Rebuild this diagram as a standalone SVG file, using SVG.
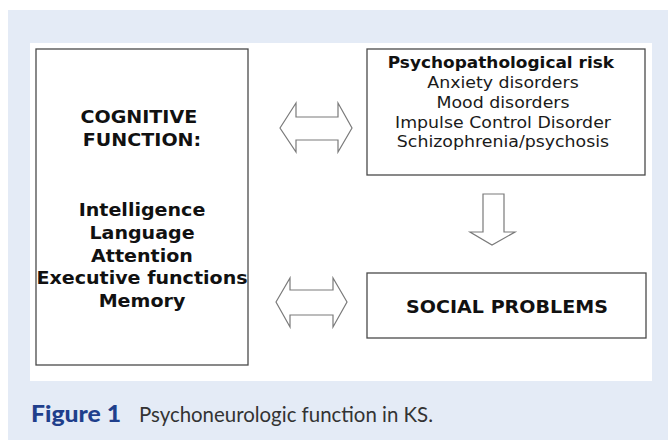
<svg xmlns="http://www.w3.org/2000/svg" width="668" height="440" viewBox="0 0 668 440">
  <defs>
    <style>
      .bg { fill: #e4ebf6; }
      .panel { fill: #ffffff; }
      .box { fill: #ffffff; stroke: #4a4a4a; stroke-width: 1.3; }
      .arrow { fill: #ffffff; stroke: #7a7a7a; stroke-width: 1.2; stroke-linejoin: miter; }
      .bold { font-family: "DejaVu Sans", Verdana, sans-serif; font-weight: bold; fill: #111111; text-anchor: middle; }
      .reg { font-family: "DejaVu Sans", Verdana, sans-serif; fill: #1a1a1a; text-anchor: middle; }
      .capfig { font-family: "Lato", "Open Sans", sans-serif; font-weight: 900; fill: #1f3f8c; font-size: 23px; }
      .captxt { font-family: "Lato", "Open Sans", sans-serif; fill: #333333; font-size: 21px; }
    </style>
  </defs>
  <rect class="bg" x="8" y="10" width="660" height="430"/>
  <rect class="panel" x="30" y="43" width="622" height="338"/>

  <g id="cognitive">
    <rect class="box" x="36" y="49" width="212" height="316"/>
    <g transform="translate(142 0) scale(1.06 1)">
      <text class="bold" font-size="18" x="-3" y="123">COGNITIVE</text>
      <text class="bold" font-size="18" x="0" y="146">FUNCTION:</text>
      <text class="bold" font-size="18" x="0" y="216">Intelligence</text>
      <text class="bold" font-size="18" x="0" y="239">Language</text>
      <text class="bold" font-size="18" x="0" y="262">Attention</text>
      <text class="bold" font-size="18" x="0" y="284">Executive functions</text>
      <text class="bold" font-size="18" x="0" y="307">Memory</text>
    </g>
  </g>

  <g id="psychopathological">
    <rect class="box" x="367" y="49" width="278" height="126"/>
    <g transform="translate(503 0) scale(1.06 1)">
      <text class="bold" font-size="16" x="-2" y="68">Psychopathological risk</text>
      <text class="reg" font-size="16.4" x="0" y="88">Anxiety disorders</text>
      <text class="reg" font-size="16.4" x="0" y="108">Mood disorders</text>
      <text class="reg" font-size="16.4" x="0" y="128">Impulse Control Disorder</text>
      <text class="reg" font-size="16.4" x="0" y="147">Schizophrenia/psychosis</text>
    </g>
  </g>

  <g id="social">
    <rect class="box" x="367" y="273" width="279" height="65"/>
    <g transform="translate(507 0) scale(1.06 1)">
      <text class="bold" font-size="18" x="0" y="313">SOCIAL PROBLEMS</text>
    </g>
  </g>

  <g id="connectors">
    <polygon class="arrow" points="280,128 296,103 296,117 338,117 338,103 352,128 338,152 338,140 296,140 296,152"/>
    <polygon class="arrow" points="276,302 290,278 290,290 333,290 333,278 347,302 333,327 333,315 290,315 290,327"/>
    <polygon class="arrow" points="483,194 504,194 504,232 515,232 492,245 470,232 483,232"/>
  </g>

  <g id="caption">
    <text class="capfig" x="31" y="422" textLength="90" lengthAdjust="spacingAndGlyphs">Figure 1</text>
    <text class="captxt" x="139" y="422" textLength="294" lengthAdjust="spacingAndGlyphs">Psychoneurologic function in KS.</text>
  </g>
</svg>
